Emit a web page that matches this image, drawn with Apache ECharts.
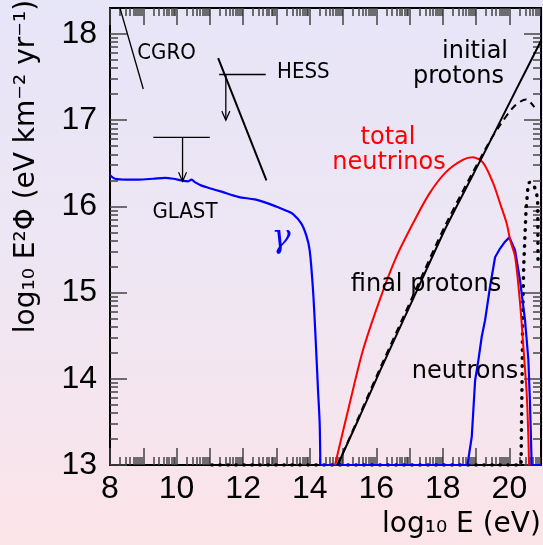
<!DOCTYPE html>
<html><head><meta charset="utf-8">
<script src="https://cdn.jsdelivr.net/npm/echarts@6/dist/echarts.min.js"></script>
<style>
html,body{margin:0;padding:0;}
#c{width:543px;height:545px;background:linear-gradient(to bottom,#e7e5f8 0%,#eee6f3 50%,#fce4e9 100%);}
</style></head><body><div id="c"></div>
<script>
// ---- axis ranges and tick labels ----
const X_MIN = 8, X_MAX = 20.95, Y_MIN = 13, Y_MAX = 18.3;
const xLabelValues = [8, 10, 12, 14, 16, 18, 20];
const yLabelValues = [13, 14, 15, 16, 17, 18];

// ---- series data: [log10 E, log10 E^2 Phi] ----
const gammaRays = [[8.0,16.36],[8.15,16.32],[8.5,16.31],[8.85,16.31],[9.3,16.32],[9.65,16.33],[9.9,16.32],[10.15,16.30],[10.35,16.29],[10.45,16.31],[10.55,16.28],[10.75,16.24],[11.0,16.21],[11.35,16.17],[11.85,16.11],[12.35,16.08],[12.7,16.04],[13.05,15.99],[13.3,15.95],[13.5,15.91],[13.75,15.80],[13.9,15.66],[14.0,15.49],[14.1,15.03],[14.18,14.45],[14.25,13.87],[14.3,13.48],[14.32,13.0]];
const gammaFloor = [[14.32,13.0],[18.74,13.0]];
const neutrons = [[18.74,13.0],[18.87,13.33],[18.97,13.98],[19.07,14.22],[19.17,14.49],[19.27,14.68],[19.42,15.07],[19.57,15.41],[19.72,15.51],[19.87,15.59],[20.0,15.64],[20.17,15.49],[20.32,15.14],[20.47,14.68],[20.57,14.22],[20.62,13.71],[20.67,13.0],[20.95,13.0]];
const totalNeutrinos = [[14.76,13.0],[15.2,13.71],[15.6,14.33],[16.1,14.91],[16.6,15.41],[17.1,15.80],[17.6,16.15],[18.1,16.40],[18.6,16.54],[18.9,16.57],[19.2,16.51],[19.5,16.28],[19.75,16.0],[19.92,15.8],[20.03,15.6],[20.17,15.42],[20.32,14.88],[20.42,14.37],[20.52,13.83],[20.57,13.33],[20.59,13.0]];
const initialProtons = [[14.84,13.0],[15.5,13.56],[16.1,14.08],[17.1,14.92],[18.1,15.76],[19.3,16.66],[20.2,17.35],[20.95,17.92]];
const finalProtons = [[14.84,13.0],[15.5,13.58],[16.1,14.11],[17.1,14.96],[18.1,15.80],[19.3,16.68],[19.7,16.93],[20.15,17.16],[20.5,17.24],[20.75,17.15]];
const dottedCurve = [[11.06,13.0],[20.35,13.0],[20.38,13.95],[20.4,14.72],[20.43,15.3],[20.47,15.68],[20.5,15.95],[20.55,16.19],[20.6,16.28],[20.7,16.26],[20.8,16.19],[20.85,16.07],[20.86,15.37]];
// ---- experimental limits ----
const cgroLine = [[8.3,18.3],[9.0,17.36]];
const hessBar = [[11.28,17.53],[12.68,17.53]];
const hessArrow = [[11.48,17.53],[11.48,17.0]];
const hessSlope = [[11.25,17.72],[12.70,16.30]];
const glastBar = [[9.3,16.80],[11.0,16.80]];
const glastArrow = [[10.18,16.80],[10.18,16.29]];

// tick positions (major at integers, minor at log-spaced positions inside each unit)
const xMajor = [], xMinor = [], yMajor = [], yMinor = [];
for (let d = 8; d <= 20; d++) { xMajor.push(d); for (let k = 2; k <= 9; k++) { const v = d + Math.log10(k); if (v < X_MAX) xMinor.push(v); } }
for (let d = 13; d <= 18; d++) { yMajor.push(d); for (let k = 2; k <= 9; k++) { const v = d + Math.log10(k); if (v < Y_MAX) yMinor.push(v); } }

const tickColor = '#444';
function xAx(pos, major, labels) {
  return {
    type: 'value', position: pos, min: X_MIN, max: X_MAX, interval: 1,
    axisLine: { show: major, onZero: false, lineStyle: { color: '#000', width: 2 } },
    axisTick: { show: true, inside: true, length: major ? 17 : 8, customValues: major ? xMajor : xMinor, lineStyle: { color: tickColor, width: 1.5 } },
    axisLabel: labels ? { show: true, customValues: xLabelValues, fontSize: 32, fontFamily: '"Liberation Sans", Arial, sans-serif', color: '#000', margin: 8 } : { show: false },
    splitLine: { show: false }
  };
}
function yAx(pos, major, labels) {
  return {
    type: 'value', position: pos, min: Y_MIN, max: Y_MAX, interval: 1,
    axisLine: { show: major, onZero: false, lineStyle: { color: '#000', width: 2 } },
    axisTick: { show: true, inside: true, length: major ? 17 : 8, customValues: major ? yMajor : yMinor, lineStyle: { color: tickColor, width: 1.5 } },
    axisLabel: labels ? { show: true, customValues: yLabelValues, fontSize: 32, fontFamily: '"Liberation Sans", Arial, sans-serif', color: '#000', margin: 13 } : { show: false },
    splitLine: { show: false }
  };
}

function line(data, color, width, extra) {
  return Object.assign({ type: 'line', data: data, showSymbol: false, symbol: 'none', animation: false, silent: true,
    lineStyle: { color: color, width: width }, itemStyle: { color: color } }, extra || {});
}
function arrow(data) {
  const d = data.map((p, i) => i === data.length - 1
    ? { value: p, symbol: 'path://M0,0L5,10L10,0', symbolSize: [8, 9], symbolOffset: [0, -4.5] }
    : { value: p, symbol: 'none' });
  return { type: 'line', data: d, showSymbol: true, symbol: 'none', animation: false, silent: true,
    lineStyle: { color: '#000', width: 1.3 },
    itemStyle: { color: 'rgba(0,0,0,0)', borderColor: '#000', borderWidth: 1.3 } };
}

const geo = '"DejaVu Sans", Verdana, sans-serif';
const narrow = '"Liberation Sans Narrow", "DejaVu Sans Condensed", "Liberation Sans", sans-serif';
function txt(text, x, y, font, color, align, extra) {
  return Object.assign({ type: 'text', x: x, y: y, silent: true, z: 100,
    style: { text: text, font: font, fill: color, align: align || 'center', verticalAlign: 'middle', textAlign: align || 'center', textVerticalAlign: 'middle' } }, extra || {});
}

const chart = echarts.init(document.getElementById('c'), null, { renderer: 'canvas' });
chart.setOption({
  backgroundColor: 'transparent',
  animation: false,
  grid: { left: 110, top: 8, width: 431, height: 457, containLabel: false },
  xAxis: [xAx('bottom', true, true), xAx('bottom', false, false), xAx('top', true, false), xAx('top', false, false)],
  yAxis: [yAx('left', true, true), yAx('left', false, false), yAx('right', true, false), yAx('right', false, false)],
  series: [
    line(dottedCurve, '#000', 3.5, { lineStyle: { color: '#000', width: 3.5, type: [0.5, 7.5], cap: 'round' } }),
    line(gammaRays, '#0000ff', 2.2, { smooth: 0.3 }),
    line(gammaFloor, '#0000ff', 2.2),
    line(neutrons, '#0000ff', 2.2),
    line(totalNeutrinos, '#ff0000', 2, { smooth: 0.3 }),
    line(initialProtons, '#000', 2, { smooth: 0.2 }),
    line(finalProtons, '#000', 2, { smooth: 0.3, lineStyle: { color: '#000', width: 2, type: [7, 5] } }),
    line(cgroLine, '#000', 1.3),
    line(hessBar, '#000', 1.5),
    arrow(hessArrow),
    line(hessSlope, '#000', 2),
    line(glastBar, '#000', 1.3),
    arrow(glastArrow)
  ],
  graphic: [
    txt('CGRO', 166.5, 53, '22px ' + narrow, '#000'),
    txt('HESS', 277, 72, '22px ' + narrow, '#000', 'left'),
    txt('GLAST', 185, 212, '22px ' + narrow, '#000'),
    txt('γ', 281, 239, 'italic 32px "DejaVu Serif", serif', '#0000ff'),
    txt('total', 388, 138, '24px ' + geo, '#ff0000'),
    txt('neutrinos', 389, 163, '24px ' + geo, '#ff0000'),
    txt('initial', 508, 51.5, '24px ' + geo, '#000', 'right'),
    txt('protons', 504, 76.5, '24px ' + geo, '#000', 'right'),
    txt('final protons', 426, 285, '24px ' + geo, '#000'),
    txt('neutrons', 465, 371.5, '24px ' + geo, '#000'),
    txt('log₁₀ E (eV)', 382, 525, '28px ' + geo, '#000', 'left'),
    txt('log₁₀ E²Φ (eV km⁻² yr⁻¹)', 27, 166.5, '28px ' + geo, '#000', 'center', { rotation: Math.PI / 2 })
  ]
});
</script></body></html>
